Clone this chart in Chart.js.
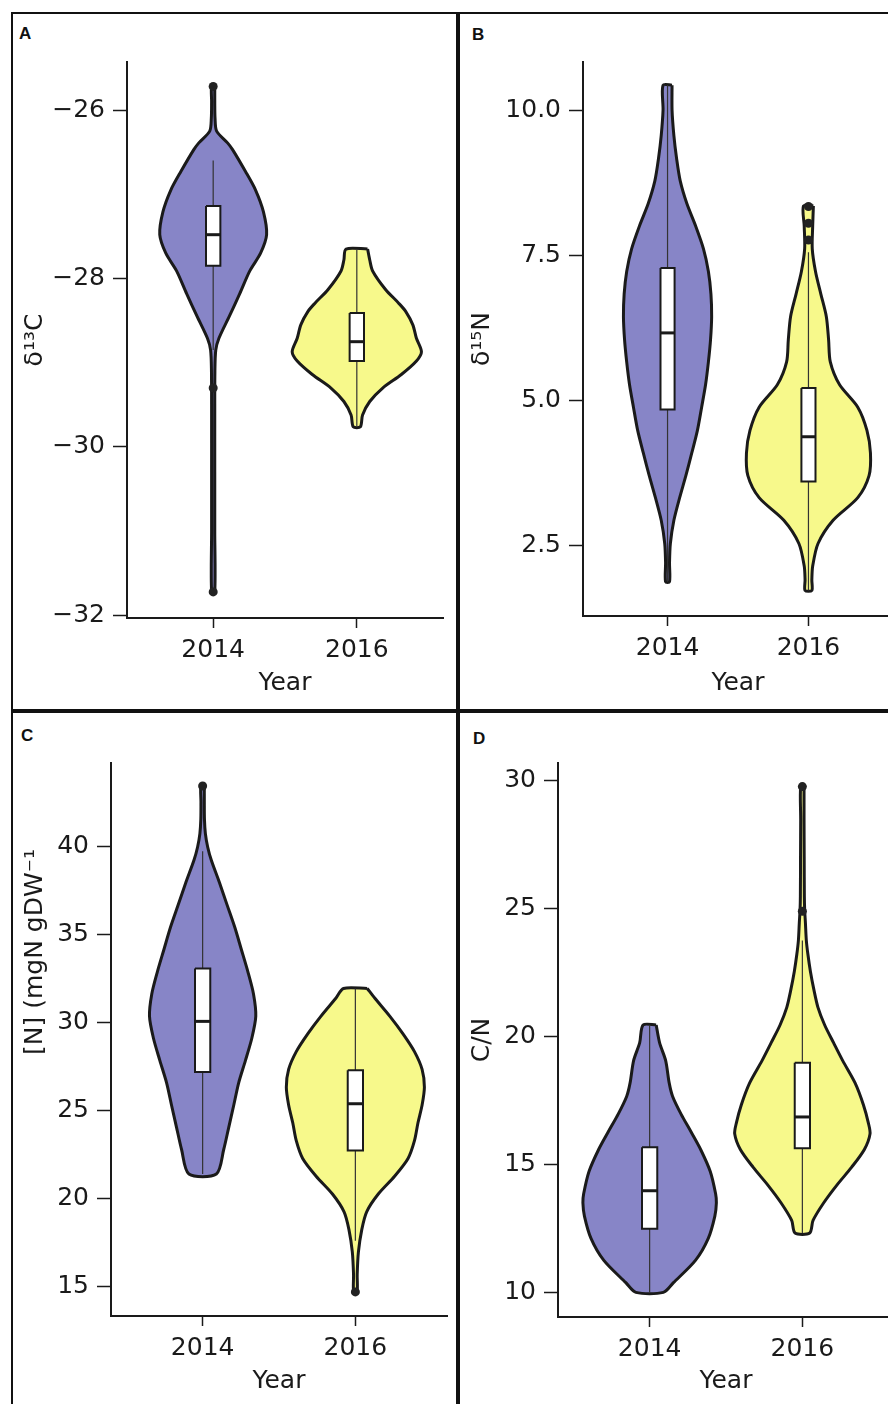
<!DOCTYPE html>
<html lang="en">
<head>
<meta charset="UTF-8">
<title>Isotopes and N content, 2014 vs 2016</title>
<script src="https://cdn.jsdelivr.net/npm/chart.js"></script>
<style>
  body { margin: 0; background: #fff; width: 888px; height: 1404px; overflow: hidden; position: relative;
         font-family: "Liberation Sans", Arial, sans-serif; }
  .frame { position: absolute; border: 2px solid #111; box-sizing: border-box; }
  .tag { position: absolute; font-weight: bold; font-size: 17px; line-height: 17px; color: #111; }
  canvas { position: absolute; }
</style>
</head>
<body>

<div class="frame" style="left:11px;top:12px;width:447px;height:699px"></div>
<div class="frame" style="left:458px;top:12px;width:460px;height:699px"></div>
<div class="frame" style="left:11px;top:711px;width:447px;height:720px"></div>
<div class="frame" style="left:458px;top:711px;width:460px;height:720px"></div>

<div class="tag" style="left:19px;top:25px">A</div>
<div class="tag" style="left:472px;top:26px">B</div>
<div class="tag" style="left:21px;top:727px">C</div>
<div class="tag" style="left:473px;top:730px">D</div>

<canvas id="chartA" width="443" height="695" style="left:13px;top:14px"></canvas>
<canvas id="chartB" width="445" height="695" style="left:460px;top:14px"></canvas>
<canvas id="chartC" width="443" height="694" style="left:13px;top:713px"></canvas>
<canvas id="chartD" width="445" height="694" style="left:460px;top:713px"></canvas>

<script>
const years = ['2014', '2016'];

// A: d13C
const aTicks = [-32, -30, -28, -26];
const aTickLabels = ['\u221232', '\u221230', '\u221228', '\u221226'];
const aLevels14 = [-25.72, -25.9, -26.1, -26.25, -26.39, -26.47, -26.73, -26.95, -27.21, -27.48, -27.70, -27.91, -28.18, -28.45, -28.71, -28.85, -29.1, -29.6, -30.3, -31.0, -31.72];
const aHalf14 = [0.011, 0.011, 0.013, 0.024, 0.10, 0.135, 0.225, 0.295, 0.35, 0.372, 0.33, 0.255, 0.185, 0.112, 0.04, 0.018, 0.012, 0.011, 0.011, 0.011, 0.011];
const aLevels16 = [-27.65, -27.78, -27.91, -28.13, -28.29, -28.39, -28.55, -28.71, -28.87, -28.98, -29.14, -29.30, -29.46, -29.62, -29.76];
const aHalf16 = [0.075, 0.09, 0.11, 0.2, 0.29, 0.34, 0.39, 0.415, 0.45, 0.415, 0.31, 0.18, 0.09, 0.04, 0.025];
const aBox14 = [-26.6, -27.14, -27.48, -27.85, -28.85];   // upper whisker, q3, median, q1, lower whisker
const aBox16 = [-27.65, -28.41, -28.75, -28.98, -29.76];
const aOut14 = [-25.72, -29.3, -31.72];
const aOut16 = [];

// B: d15N
const bTicks = [2.5, 5, 7.5, 10];
const bTickLabels = ['2.5', '5.0', '7.5', '10.0'];
const bLevels14 = [10.43, 10.0, 9.56, 9.17, 8.78, 8.39, 8.0, 7.61, 7.22, 6.83, 6.44, 6.04, 5.66, 5.27, 4.88, 4.48, 4.09, 3.7, 3.32, 2.93, 2.53, 2.2, 1.87];
const bHalf14 = [0.032, 0.032, 0.045, 0.064, 0.09, 0.137, 0.2, 0.255, 0.29, 0.308, 0.313, 0.305, 0.29, 0.27, 0.242, 0.212, 0.172, 0.13, 0.086, 0.045, 0.02, 0.014, 0.014];
const bLevels16 = [8.35, 8.0, 7.61, 7.22, 6.83, 6.44, 6.04, 5.66, 5.27, 4.88, 4.48, 4.09, 3.7, 3.32, 2.93, 2.53, 2.14, 1.9, 1.72];
const bHalf16 = [0.035, 0.03, 0.027, 0.05, 0.088, 0.127, 0.143, 0.155, 0.22, 0.35, 0.415, 0.44, 0.43, 0.35, 0.175, 0.068, 0.03, 0.024, 0.024];
const bBox14 = [10.43, 7.28, 6.16, 4.84, 1.87];
const bBox16 = [7.55, 5.21, 4.37, 3.60, 1.72];
const bOut14 = [];
const bOut16 = [8.34, 8.05, 7.76];

// C: [N]
const cTicks = [15, 20, 25, 30, 35, 40];
const cTickLabels = ['15', '20', '25', '30', '35', '40'];
const cLevels14 = [43.41, 42.5, 41.5, 40.71, 39.95, 39.19, 37.93, 36.66, 35.4, 34.14, 32.87, 31.6, 30.34, 29.08, 27.81, 26.55, 25.29, 24.02, 22.76, 21.37];
const cHalf14 = [0.011, 0.011, 0.012, 0.018, 0.033, 0.057, 0.11, 0.16, 0.21, 0.253, 0.296, 0.333, 0.348, 0.322, 0.28, 0.236, 0.204, 0.171, 0.138, 0.09];
const cLevels16 = [31.91, 31.35, 30.34, 29.33, 28.32, 27.31, 26.3, 25.29, 24.28, 23.26, 22.25, 21.24, 20.23, 19.22, 18.21, 16.94, 15.68, 14.67];
const cHalf16 = [0.078, 0.128, 0.225, 0.312, 0.387, 0.437, 0.452, 0.437, 0.41, 0.387, 0.345, 0.257, 0.15, 0.074, 0.042, 0.02, 0.012, 0.011];
const cBox14 = [39.7, 33.05, 30.04, 27.16, 21.37];
const cBox16 = [31.91, 27.26, 25.36, 22.71, 17.58];
const cOut14 = [43.41];
const cOut16 = [14.67];

// D: C/N
const dTicks = [10, 15, 20, 25, 30];
const dTickLabels = ['10', '15', '20', '25', '30'];
const dLevels14 = [20.46, 19.77, 19.07, 18.2, 17.68, 16.99, 16.3, 15.6, 14.74, 13.87, 13.52, 13.0, 12.13, 11.27, 10.4, 10.02];
const dHalf14 = [0.043, 0.065, 0.105, 0.128, 0.15, 0.205, 0.27, 0.334, 0.397, 0.432, 0.437, 0.427, 0.384, 0.3, 0.156, 0.09];
const dLevels16 = [29.77, 28.5, 27.0, 25.5, 24.97, 24.45, 23.76, 23.23, 22.54, 21.85, 21.15, 20.46, 19.77, 19.07, 18.2, 17.34, 16.64, 16.21, 15.6, 14.91, 14.21, 13.52, 12.83, 12.34];
const dHalf16 = [0.011, 0.011, 0.012, 0.013, 0.015, 0.02, 0.026, 0.036, 0.053, 0.075, 0.102, 0.146, 0.204, 0.264, 0.345, 0.4, 0.432, 0.443, 0.406, 0.323, 0.226, 0.14, 0.07, 0.048];
const dBox14 = [20.46, 15.69, 13.99, 12.51, 10.02];
const dBox16 = [23.76, 18.99, 16.87, 15.65, 12.34];
const dOut14 = [];
const dOut16 = [29.77, 24.9];

const purple = '#8785c7';
const yellow = '#f7f98b';
const ink = '#1a1a1a';
const boxHalf = 0.05;
const font = { family: '"DejaVu Sans", sans-serif', size: 25 };

function violinOutline(levels, half, xc) {
    const right = levels.map((y, i) => ({ x: xc + half[i], y: y }));
    const left = levels.map((y, i) => ({ x: xc - half[i], y: y })).reverse();
    return right.concat(left, [right[0]]);
}

function violinSets(levels, half, box, outliers, xc, color) {
    return [
        { data: violinOutline(levels, half, xc), showLine: true, fill: 'shape', backgroundColor: color,
          borderColor: ink, borderWidth: 3, pointRadius: 0, tension: 0.28, order: 5 },
        { data: [{ x: xc, y: box[0] }, { x: xc, y: box[4] }], showLine: true, fill: false,
          borderColor: '#333', borderWidth: 1.2, pointRadius: 0, order: 4 },
        { data: [{ x: xc - boxHalf, y: box[1] }, { x: xc + boxHalf, y: box[1] }, { x: xc + boxHalf, y: box[3] },
                 { x: xc - boxHalf, y: box[3] }, { x: xc - boxHalf, y: box[1] }],
          showLine: true, fill: 'shape', backgroundColor: '#fff', borderColor: ink, borderWidth: 2,
          pointRadius: 0, order: 3 },
        { data: [{ x: xc - boxHalf, y: box[2] }, { x: xc + boxHalf, y: box[2] }], showLine: true, fill: false,
          borderColor: ink, borderWidth: 3, pointRadius: 0, order: 2 },
        { data: outliers.map(v => ({ x: xc, y: v })), showLine: false, pointRadius: 4.5,
          pointBackgroundColor: '#222', pointBorderWidth: 0, order: 1 }
    ];
}

function panel(id, p) {
    const datasets = violinSets(p.lv14, p.hw14, p.box14, p.out14, 1, purple)
        .concat(violinSets(p.lv16, p.hw16, p.box16, p.out16, 2, yellow));
    return new Chart(document.getElementById(id), {
        type: 'scatter',
        data: { datasets: datasets },
        options: {
            responsive: false,
            animation: false,
            events: [],
            layout: { padding: { left: 0, top: p.padTop, right: p.padRight, bottom: 0 } },
            plugins: { legend: { display: false }, tooltip: { enabled: false } },
            scales: {
                x: {
                    type: 'linear', min: 0.4, max: 2.6,
                    afterBuildTicks: s => { s.ticks = [{ value: 1 }, { value: 2 }]; },
                    afterFit: s => { s.height = p.xHeight; },
                    ticks: { callback: v => years[v - 1], font: font, color: ink, padding: 7,
                             autoSkip: false, maxRotation: 0 },
                    grid: { drawOnChartArea: false, drawTicks: true, tickLength: 10, tickColor: ink, tickWidth: 1.5 },
                    border: { display: true, color: ink, width: 2 },
                    title: { display: true, text: 'Year', font: font, color: ink, padding: { top: 0, bottom: 11 } }
                },
                y: {
                    type: 'linear', min: p.min, max: p.max,
                    afterBuildTicks: s => { s.ticks = p.ticks.map(v => ({ value: v })); },
                    afterFit: s => { s.width = p.yWidth; },
                    ticks: { callback: (v, i) => p.labels[i], font: font, color: ink, padding: 8, autoSkip: false },
                    grid: { drawOnChartArea: false, drawTicks: true, tickLength: 14, tickColor: ink, tickWidth: 1.5 },
                    border: { display: true, color: ink, width: 2 },
                    title: { display: true, text: p.title, font: font, color: ink, padding: { top: 7, bottom: 0 } }
                }
            }
        }
    });
}

panel('chartA', { lv14: aLevels14, hw14: aHalf14, box14: aBox14, out14: aOut14,
                  lv16: aLevels16, hw16: aHalf16, box16: aBox16, out16: aOut16,
                  ticks: aTicks, labels: aTickLabels, min: -32.03, max: -25.43,
                  title: '\u03B4\u00B9\u00B3C', padTop: 48, padRight: 13, yWidth: 114, xHeight: 91 });

panel('chartB', { lv14: bLevels14, hw14: bHalf14, box14: bBox14, out14: bOut14,
                  lv16: bLevels16, hw16: bHalf16, box16: bBox16, out16: bOut16,
                  ticks: bTicks, labels: bTickLabels, min: 1.28, max: 10.83,
                  title: '\u03B4\u00B9\u2075N', padTop: 48, padRight: 12, yWidth: 123, xHeight: 93 });

panel('chartC', { lv14: cLevels14, hw14: cHalf14, box14: cBox14, out14: cOut14,
                  lv16: cLevels16, hw16: cHalf16, box16: cBox16, out16: cOut16,
                  ticks: cTicks, labels: cTickLabels, min: 13.3, max: 44.72,
                  title: '\u2003\u2003\u2003\u2003\u2003\u2003\u2003[N] (mgN gDW\u207B\u00B9',
                  padTop: 50, padRight: 9, yWidth: 98, xHeight: 91 });

panel('chartD', { lv14: dLevels14, hw14: dHalf14, box14: dBox14, out14: dOut14,
                  lv16: dLevels16, hw16: dHalf16, box16: dBox16, out16: dOut16,
                  ticks: dTicks, labels: dTickLabels, min: 9.06, max: 30.69,
                  title: 'C/N', padTop: 50, padRight: 11, yWidth: 98, xHeight: 90 });
</script>
</body>
</html>
